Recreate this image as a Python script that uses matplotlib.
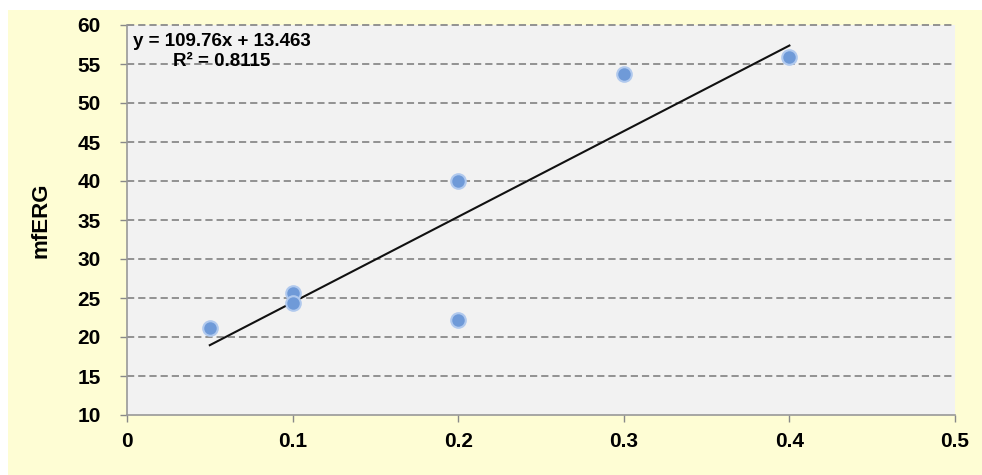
import matplotlib.pyplot as plt
from matplotlib.patches import Rectangle

# data
dose = [0.05, 0.1, 0.1, 0.2, 0.2, 0.3, 0.4]
mferg = [21.2, 25.6, 24.4, 22.2, 40.0, 53.7, 55.9]
slope = 109.76
intercept = 13.463
r_squared = 0.8115
x_ticks = [0, 0.1, 0.2, 0.3, 0.4, 0.5]
y_ticks = [10, 15, 20, 25, 30, 35, 40, 45, 50, 55, 60]

W, H = 982, 475
plt.rcParams['font.family'] = ['Liberation Sans', 'DejaVu Sans']

fig = plt.figure(figsize=(W / 100, H / 100), dpi=100, facecolor='white')
fig.patches.append(Rectangle((8 / W, 0), 1 - 8 / W, 1 - 10 / H, transform=fig.transFigure,
                             facecolor='#fefdd4', edgecolor='none', zorder=-5))

ax = fig.add_axes([127 / W, 60 / H, (955 - 127) / W, (415 - 25) / H])
ax.set_facecolor('#f2f2f2')
ax.set_xlim(0, 0.5)
ax.set_ylim(10, 60)
ax.set_xticks(x_ticks)
ax.set_xticklabels([f'{t:g}' for t in x_ticks])
ax.set_yticks(y_ticks)
ax.tick_params(labelsize=15, length=5, color='#888888', width=1)
ax.tick_params(axis='y', pad=14)
ax.tick_params(axis='x', pad=7)
for lab in ax.get_xticklabels() + ax.get_yticklabels():
    lab.set_fontweight('bold')
for s in ('top', 'right'):
    ax.spines[s].set_visible(False)
for s in ('left', 'bottom'):
    ax.spines[s].set_color('#999999')
    ax.spines[s].set_linewidth(1.2)

for y in y_ticks[1:]:
    ax.axhline(y, color='#8a8a8a', lw=1.3, ls=(0, (4, 2.2)), zorder=1, clip_on=False)

x_fit = [min(dose), max(dose)]
ax.plot(x_fit, [slope * x + intercept for x in x_fit], color='#111111', lw=1.5, zorder=3)
ax.scatter(dose, mferg, s=110, color='#6f9ad8', edgecolors='#b0c9ee', linewidths=1.5, zorder=4)

ax.set_ylabel('mfERG', fontsize=16, fontweight='bold')
ax.yaxis.set_label_coords((51 - 127) / 828, (415 - 220) / 390)

ax.text(133 / W, 1 - 42 / H, f'y = {slope}x + {intercept}', transform=fig.transFigure,
        fontsize=13.5, fontweight='bold', va='center', ha='left')
ax.text(173 / W, 1 - 62 / H, f'R² = {r_squared}', transform=fig.transFigure,
        fontsize=13.5, fontweight='bold', va='center', ha='left')

fig.savefig('out.png', dpi=100, facecolor=fig.get_facecolor())
